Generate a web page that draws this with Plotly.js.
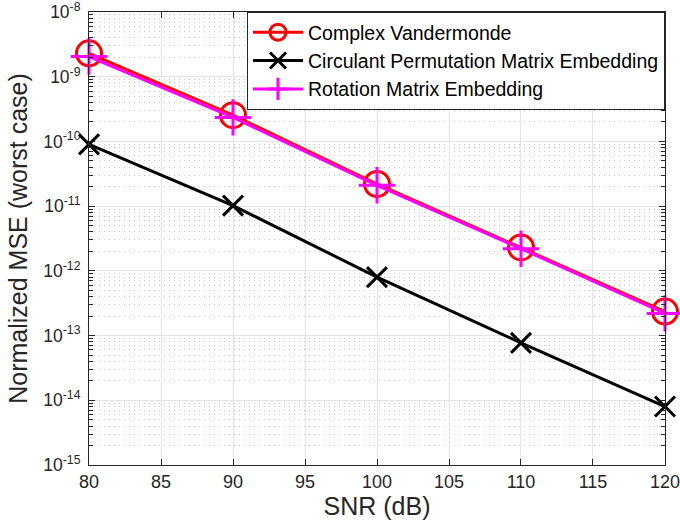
<!DOCTYPE html>
<html>
<head>
<meta charset="utf-8">
<script src="https://cdn.plot.ly/plotly-3.0.1.min.js"></script>
<style>html,body{margin:0;padding:0;background:#fff;}#chart{width:680px;height:524px;}</style>
</head>
<body>
<div id="chart"></div>
<script>
const snr = [80, 90, 100, 110, 120];
const vandermonde = [2.3e-9, 2.55e-10, 2.2e-11, 2.3e-12, 2.35e-13];
const circulant = [9.0e-11, 1.02e-11, 8.0e-13, 7.7e-14, 8.0e-15];
const rotation = [2.05e-9, 2.35e-10, 2.1e-11, 2.2e-12, 2.2e-13];
const names = ["Complex Vandermonde", "Circulant Permutation Matrix Embedding", "Rotation Matrix Embedding"];
const xTicks = [80, 85, 90, 95, 100, 105, 110, 115, 120];
const yTickExps = [-15, -14, -13, -12, -11, -10, -9, -8];

const font = "'Liberation Sans', Arial, sans-serif";
const traces = [
  {x: snr, y: vandermonde, name: names[0], mode: "lines+markers", cliponaxis: false,
   line: {color: "#ff0000", width: 3},
   marker: {symbol: "circle-open", size: 25, color: "#ff0000", line: {color: "#ff0000", width: 3}}},
  {x: snr, y: circulant, name: names[1], mode: "lines+markers", cliponaxis: false,
   line: {color: "#000000", width: 3},
   marker: {symbol: "x-thin", size: 20, color: "#000000", line: {color: "#000000", width: 3}}},
  {x: snr, y: rotation, name: names[2], mode: "lines+markers", cliponaxis: false,
   line: {color: "#ff00ff", width: 3},
   marker: {symbol: "cross-thin", size: 26, color: "#ff00ff", line: {color: "#ff00ff", width: 3}}}
];

const layout = {
  width: 680, height: 524,
  margin: {l: 89, r: 15, t: 12, b: 59},
  paper_bgcolor: "#fff", plot_bgcolor: "#fff",
  font: {family: font, color: "#262626", size: 18},
  showlegend: true,
  legend: {x: 1, y: 1, xanchor: "right", yanchor: "top",
    bgcolor: "#fff", bordercolor: "#262626", borderwidth: 1,
    itemwidth: 50,
    font: {family: font, size: 19.5, color: "#000"}, tracegroupgap: 0},
  xaxis: {
    range: [79.999, 120.001], tickvals: xTicks, ticktext: xTicks.map(String),
    showline: true, linecolor: "#262626", linewidth: 1, mirror: "ticks",
    ticks: "inside", ticklen: 6, tickcolor: "#262626", ticklabeloverflow: "allow",
    showgrid: true, gridcolor: "#e3e3e3", gridwidth: 1, zeroline: false,
    tickfont: {family: font, size: 18, color: "#262626"},
    title: {text: "SNR (dB)", font: {family: font, size: 25, color: "#262626"}, standoff: 1}
  },
  yaxis: {
    type: "log", range: [-15.0002, -7.9998],
    tickvals: yTickExps.map(e => Math.pow(10, e)),
    ticktext: yTickExps.map(e => "10<sup>" + e + "</sup>"),
    showline: true, linecolor: "#262626", linewidth: 1, mirror: "ticks",
    ticks: "inside", ticklen: 6, tickcolor: "#262626", ticklabeloverflow: "allow",
    ticklabelstandoff: 4,
    showgrid: true, gridcolor: "#e3e3e3", gridwidth: 1, zeroline: false,
    tickfont: {family: font, size: 17.5, color: "#262626"},
    minor: {dtick: "D1", ticks: "inside", ticklen: 4, tickcolor: "#262626",
      showgrid: true, gridcolor: "#c4c4c4", griddash: "1px,4px", gridwidth: 1},
    title: {text: "Normalized MSE (worst case)", font: {family: font, size: 25, color: "#262626"}, standoff: 8}
  }
};

Plotly.newPlot("chart", traces, layout, {displayModeBar: false, staticPlot: true});
</script>
</body>
</html>
